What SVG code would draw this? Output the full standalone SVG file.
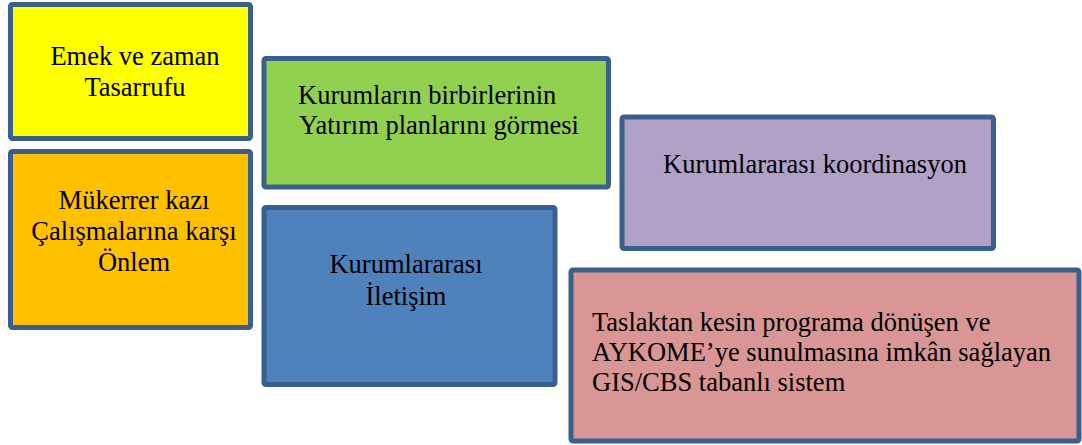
<svg xmlns="http://www.w3.org/2000/svg" width="1082" height="445" viewBox="0 0 1082 445">
<style>
.box{stroke:#3B5F8C;stroke-width:5}
text{font-family:"Liberation Serif","Times New Roman",serif;font-size:26.5px;fill:#000}
.c{text-anchor:middle}
</style>
<rect width="1082" height="445" fill="#fff"/>
<g id="node-emek">
<rect class="box" x="10.5" y="4.5" width="240" height="134" rx="2" fill="#FFFF00"/>
<text class="c" x="135" y="65">Emek ve zaman</text>
<text class="c" x="135" y="96">Tasarrufu</text>
</g>
<g id="node-mukerrer">
<rect class="box" x="10.5" y="151.5" width="240" height="176" rx="2" fill="#FFC000"/>
<text class="c" x="134" y="209">Mükerrer kazı</text>
<text class="c" x="134" y="240">Çalışmalarına karşı</text>
<text class="c" x="134" y="271">Önlem</text>
</g>
<g id="node-yatirim">
<rect class="box" x="264" y="58.5" width="344.5" height="128.5" rx="2" fill="#92D050"/>
<text x="298" y="104">Kurumların birbirlerinin</text>
<text x="299" y="134">Yatırım planlarını görmesi</text>
</g>
<g id="node-iletisim">
<rect class="box" x="264" y="207.5" width="291" height="177" rx="2" fill="#4F81BD"/>
<text class="c" x="406" y="273">Kurumlararası</text>
<text class="c" x="406" y="305">İletişim</text>
</g>
<g id="node-koordinasyon">
<rect class="box" x="622" y="117" width="371.5" height="131.5" rx="2" fill="#B2A1C7"/>
<text x="663" y="173">Kurumlararası koordinasyon</text>
</g>
<g id="node-gis">
<rect class="box" x="571" y="270" width="508" height="171" rx="2" fill="#D99694"/>
<text x="592" y="331">Taslaktan kesin programa dönüşen ve</text>
<text x="592" y="361">AYKOME’ye sunulmasına imkân sağlayan</text>
<text x="592" y="391">GIS/CBS tabanlı sistem</text>
</g>
<g id="connectors"></g>
</svg>
